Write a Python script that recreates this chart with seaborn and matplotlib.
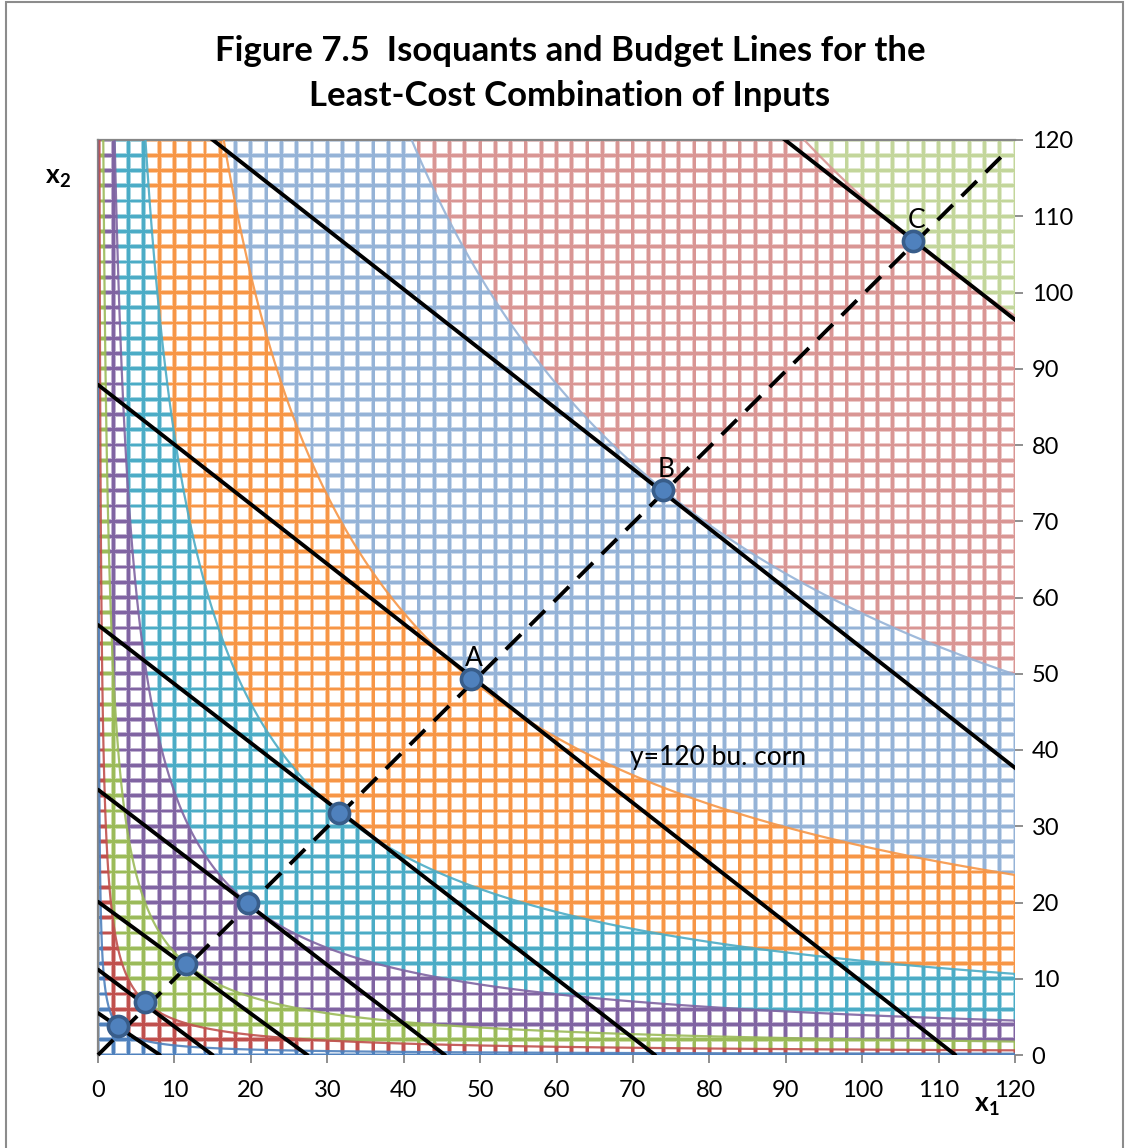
import numpy as np
import pandas as pd
import matplotlib
matplotlib.use("Agg")
import matplotlib.pyplot as plt
from matplotlib.patches import Rectangle
from matplotlib.collections import PatchCollection
import seaborn as sns

# Least-cost points on the expansion path
point_x1 = [2.6, 6.2, 11.5, 19.6, 31.6, 48.8, 74.0, 106.7]
point_x2 = [3.8, 6.9, 12.0, 19.9, 31.7, 49.3, 74.1, 106.7]
point_labels = ["", "", "", "", "", "A", "B", "C"]

# Budget (isocost) lines given by their axis intercepts
budget_x1_intercept = [8.1, 15.0, 27.4, 45.4, 72.9, 112.2, 168.0, 243.0]
budget_x2_intercept = [5.5, 11.2, 20.1, 34.8, 56.4, 87.9, 131.8, 190.5]

# Expansion path end points
path_x1 = [0.0, 119.2]
path_x2 = [0.0, 118.8]

# Production surface exponents (Cobb-Douglas)
alpha_x1 = 0.45
alpha_x2 = 0.55

band_colors = ["#4F81BD", "#C0504D", "#9BBB59", "#8064A2", "#4BACC6",
               "#F79646", "#95B3D7", "#D99694", "#C3D69B"]

x_ticks = list(range(0, 121, 10))
y_ticks = list(range(0, 121, 10))
grid_step = 2.0
axis_max = 120.0

sns.set_theme(style="white")
FONT = "Lato"
plt.rcParams["font.family"] = [FONT, "DejaVu Sans"]
plt.rcParams["text.color"] = "black"
plt.rcParams["mathtext.fontset"] = "custom"
plt.rcParams["mathtext.rm"] = FONT
plt.rcParams["mathtext.bf"] = FONT + ":bold"

W, H = 1129, 1148
fig = plt.figure(figsize=(W / 100, H / 100), dpi=100)
fig.patch.set_facecolor("white")

L, R, B, T = 98, 1015, 1055, 140
ax = fig.add_axes([L / W, 1 - B / H, (R - L) / W, (B - T) / H])

# production surface and its contour bands
g = np.linspace(0, axis_max, 961)
X1, X2 = np.meshgrid(g, g)
Z = X1 ** alpha_x1 * X2 ** alpha_x2
iso_levels = [a ** alpha_x1 * b ** alpha_x2 for a, b in zip(point_x1, point_x2)]
levels = [-1.0] + iso_levels + [Z.max() + 1.0]
ax.contourf(X1, X2, Z, levels=levels, colors=band_colors, zorder=1, antialiased=False)

# white cell interiors leave a coloured wireframe grid
cells = np.arange(0, axis_max, grid_step)
h_soft, h_core = 0.19, 0.31
soft = [Rectangle((cx + h_soft, cy + h_soft), grid_step - 2 * h_soft, grid_step - 2 * h_soft)
        for cx in cells for cy in cells]
core = [Rectangle((cx + h_core, cy + h_core), grid_step - 2 * h_core, grid_step - 2 * h_core)
        for cx in cells for cy in cells]
ax.add_collection(PatchCollection(soft, facecolor="white", edgecolor="none", alpha=0.5, zorder=2))
ax.add_collection(PatchCollection(core, facecolor="white", edgecolor="none", alpha=1.0, zorder=2.1))

# isoquant curves
ax.contour(X1, X2, Z, levels=iso_levels, colors=band_colors[:len(iso_levels)],
           linewidths=1.6, alpha=0.9, zorder=3)

# budget lines
budget_df = pd.DataFrame({
    "line": np.repeat(np.arange(len(budget_x1_intercept)), 2),
    "x1": np.ravel([[0.0, a] for a in budget_x1_intercept]),
    "x2": np.ravel([[b, 0.0] for b in budget_x2_intercept]),
})
sns.lineplot(data=budget_df, x="x1", y="x2", units="line", estimator=None, sort=False,
             color="black", linewidth=2.8, ax=ax, zorder=4)

# expansion path
ax.plot(path_x1, path_x2, color="black", linewidth=2.8, dashes=(5.5, 3.2),
        zorder=4, clip_on=False)

# least-cost points
sns.scatterplot(x=point_x1, y=point_x2, s=210, color="#4F81BD", edgecolor="#385D8A",
                linewidth=2.6, ax=ax, zorder=5, clip_on=False)
for px, py, lab in zip(point_x1, point_x2, point_labels):
    if lab:
        ax.text(px + 0.4, py + 1.7, lab, ha="center", va="baseline", fontsize=19,
                color="black", zorder=6)

ax.text(69.6, 38.0, "y=120 bu. corn", ha="left", va="baseline", fontsize=19,
        color="black", zorder=6)

ax.set_xlim(0, axis_max)
ax.set_ylim(0, axis_max)
ax.set_xticks(x_ticks)
ax.set_yticks(y_ticks)
ax.yaxis.tick_right()
ax.xaxis.tick_bottom()
ax.tick_params(axis="both", direction="out", length=6, width=1.3, color="#868686",
               labelsize=17, labelcolor="black")
ax.tick_params(axis="x", pad=12)
ax.tick_params(axis="y", pad=6)
ax.set_xlabel("")
ax.set_ylabel("")
for side in ["right", "bottom"]:
    ax.spines[side].set_visible(False)
for side in ["left", "top"]:
    ax.spines[side].set_color("#868686")
    ax.spines[side].set_linewidth(1.6)

fig.text(45 / W, 1 - 183 / H, r"$\mathbf{x}_{\mathbf{2}}$", fontsize=19, ha="left",
         va="baseline", color="black")
fig.text(974 / W, 1 - 1111 / H, r"$\mathbf{x}_{\mathbf{1}}$", fontsize=19, ha="left",
         va="baseline", color="black")

fig.text(570 / W, 1 - 35 / H,
         "Figure 7.5  Isoquants and Budget Lines for the\nLeast-Cost Combination of Inputs",
         ha="center", va="top", fontsize=25, fontweight="bold", linespacing=1.5,
         color="black")

# chart-area frame
fig.add_artist(Rectangle((6 / W, -0.01), (W - 12) / W, 1.0 + 0.01 - 2 / H,
                         transform=fig.transFigure, fill=False,
                         edgecolor="#8C8C8C", linewidth=1.5))

fig.savefig("out.png", dpi=100, facecolor="white")
